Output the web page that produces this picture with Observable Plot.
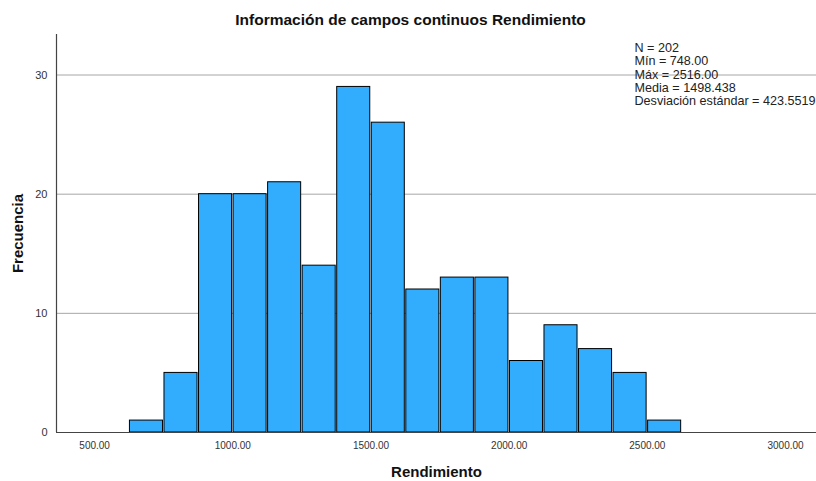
<!DOCTYPE html>
<html>
<head>
<meta charset="utf-8">
<script src="https://cdn.jsdelivr.net/npm/d3@7"></script>
<script src="https://cdn.jsdelivr.net/npm/@observablehq/plot@0.6"></script>
<style>
  html, body { margin: 0; padding: 0; background: #fff; }
  #chart svg { display: block; }
</style>
</head>
<body>
<div id="chart"></div>
<script>
// Bin edges and frequencies
const binLo  = [625, 750, 875, 1000, 1125, 1250, 1375, 1500, 1625, 1750, 1875, 2000, 2125, 2250, 2375, 2500];
const binHi  = [750, 875, 1000, 1125, 1250, 1375, 1500, 1625, 1750, 1875, 2000, 2125, 2250, 2375, 2500, 2625];
const counts = [1, 5, 20, 20, 21, 14, 29, 26, 12, 13, 13, 6, 9, 7, 5, 1];

const xTicks = [500, 1000, 1500, 2000, 2500, 3000];
const yTicks = [0, 10, 20, 30];
const xDomain = [362, 3112];
const yDomain = [0, 33.4];

const title = "Información de campos continuos Rendimiento";
const xLabel = "Rendimiento";
const yLabel = "Frecuencia";
const statLines = ["N = 202", "Mín = 748.00", "Máx = 2516.00", "Media = 1498.438", "Desviación estándar = 423.5519"];

const bins = binLo.map((lo, i) => ({lo, hi: binHi[i], n: counts[i]}));

const font = "'Liberation Sans', Arial, sans-serif";

const chart = Plot.plot({
  width: 816,
  height: 481,
  marginLeft: 56,
  marginRight: 0,
  marginTop: 34,
  marginBottom: 49,
  style: {fontFamily: font, background: "#fff", color: "#222"},
  x: {domain: xDomain, ticks: xTicks},
  y: {domain: yDomain, ticks: yTicks},
  marks: [
    Plot.gridY(yTicks.filter(d => d > 0), {stroke: "#a6a6a6", strokeOpacity: 1, strokeWidth: 1}),
    Plot.rectY(bins, {
      x1: "lo", x2: "hi", y: "n",
      fill: "#32adfe", stroke: "#000", strokeWidth: 1,
      insetLeft: 0.75, insetRight: 0.75
    }),
    Plot.ruleY([yDomain[0]], {stroke: "#444", strokeWidth: 1.2}),
    Plot.ruleX([xDomain[0]], {stroke: "#444", strokeWidth: 1.2}),
    Plot.axisX({
      ticks: xTicks, tickSize: 0, tickPadding: 9,
      tickFormat: d3.format(".2f"), fontSize: 10, fill: "#333",
      label: xLabel, labelAnchor: "center", labelOffset: 44, labelArrow: "none"
    }),
    Plot.axisY({
      ticks: yTicks, tickSize: 0, tickPadding: 9,
      tickFormat: d3.format("d"), fontSize: 11, fill: "#333",
      label: yLabel, labelAnchor: "center", labelOffset: 44, labelArrow: "none"
    }),
    Plot.text([title], {
      frameAnchor: "top", dy: -14, dx: -26,
      fontSize: 15.5, fontWeight: "bold", fill: "#111", lineAnchor: "middle"
    }),
    Plot.text([statLines.join("\n")], {
      frameAnchor: "top-left", dx: 578, dy: 8,
      textAnchor: "start", lineAnchor: "top", lineHeight: 1.06,
      fontSize: 12.6, fill: "#222"
    })
  ]
});

// Style axis labels (bold, larger)
chart.querySelectorAll("g[aria-label='x-axis label'] text, g[aria-label='y-axis label'] text").forEach(t => {
  t.setAttribute("font-size", "15");
  t.setAttribute("font-weight", "bold");
  t.setAttribute("fill", "#111");
});

document.getElementById("chart").appendChild(chart);
</script>
</body>
</html>
